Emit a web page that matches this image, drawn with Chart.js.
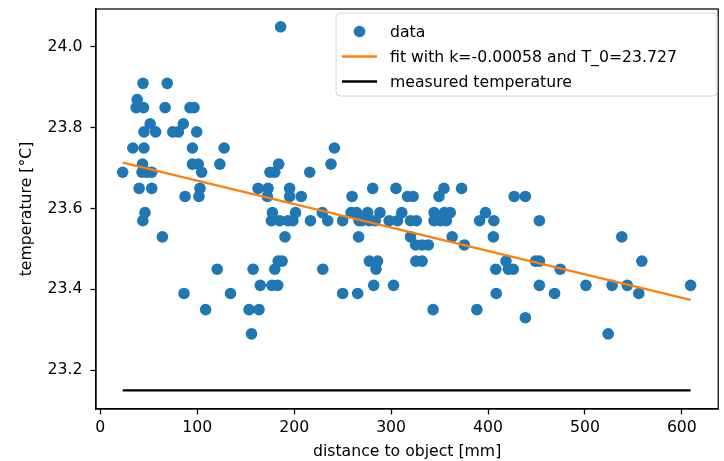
<!DOCTYPE html>
<html>
<head>
<meta charset="utf-8">
<script src="https://cdn.jsdelivr.net/npm/chart.js@4.4.1/dist/chart.umd.min.js"></script>
<style>
  html, body { margin: 0; padding: 0; background: #fff; }
  #wrap { width: 724px; height: 461px; }
</style>
</head>
<body>
<div id="wrap"><canvas id="chart" width="724" height="461"></canvas></div>
<script>
// measured points: distance [mm] / temperature [°C]
const distance = [
  23, 33.5, 37, 38, 40, 43, 43.5, 43.8, 44, 44.5, 45, 45, 46, 48, 51.4, 53, 53, 57, 64, 66.8,
  69, 74.7, 80.5, 85.6, 86.3, 87.4, 92.5, 95, 95, 96.6, 99.4, 101, 101.7, 102.8, 104.5, 108.6, 120.6, 123.3, 127.7, 134.3,
  153.4, 156, 157.6, 162.7, 163.7, 165, 172.3, 173, 175, 176.5, 177, 177.5, 180, 180, 183, 183.5, 184, 185, 186, 187.5,
  190.5, 193.5, 195.3, 195.3, 198.6, 201.4, 207.3, 216, 216.8, 229, 229.5, 234.6, 238, 241.5, 250, 250, 258.7, 259.7, 264.4, 265.5,
  266.5, 267, 270, 275.8, 277.5, 277.5, 281, 282, 283.6, 284.4, 286, 288.5, 298, 302.5, 305, 306.6, 311, 317, 320, 320,
  322.7, 325.3, 325.5, 326, 332, 332, 338.4, 343.3, 344.3, 344.3, 349.4, 351, 354.5, 355, 357, 361, 363, 372.7, 375.5, 388.5,
  391.3, 397.4, 406, 405.5, 408, 408.5, 418.5, 421, 426, 427, 438.5, 438.5, 449, 453, 453, 453, 468.7, 474.5, 501, 524,
  528, 538, 543.7, 555.6, 558.7, 609
];
const temperature = [
  23.69, 23.75, 23.85, 23.87, 23.65, 23.69, 23.71, 23.57, 23.91, 23.85, 23.79, 23.75, 23.59, 23.69, 23.81, 23.69, 23.65, 23.79, 23.53, 23.85,
  23.91, 23.79, 23.79, 23.81, 23.39, 23.63, 23.85, 23.75, 23.71, 23.85, 23.79, 23.71, 23.63, 23.65, 23.69, 23.35, 23.45, 23.71, 23.75, 23.39,
  23.35, 23.29, 23.45, 23.65, 23.35, 23.41, 23.63, 23.65, 23.69, 23.57, 23.41, 23.59, 23.45, 23.69, 23.41, 23.47, 23.71, 23.57, 24.05, 23.47,
  23.53, 23.57, 23.65, 23.63, 23.57, 23.59, 23.63, 23.69, 23.57, 23.59, 23.45, 23.57, 23.71, 23.75, 23.57, 23.39, 23.59, 23.63, 23.59, 23.39,
  23.53, 23.57, 23.57, 23.59, 23.57, 23.47, 23.65, 23.41, 23.57, 23.45, 23.47, 23.59, 23.57, 23.41, 23.65, 23.57, 23.59, 23.63, 23.57, 23.53,
  23.63, 23.51, 23.47, 23.57, 23.51, 23.47, 23.51, 23.35, 23.59, 23.57, 23.63, 23.57, 23.65, 23.59, 23.57, 23.59, 23.53, 23.65, 23.51, 23.35,
  23.57, 23.59, 23.57, 23.53, 23.45, 23.39, 23.47, 23.45, 23.45, 23.63, 23.63, 23.33, 23.47, 23.47, 23.57, 23.41, 23.39, 23.45, 23.41, 23.29,
  23.41, 23.53, 23.41, 23.39, 23.47, 23.41
];

// fit line end points and the measured reference temperature
const fitX = [23, 609];
const fitY = [23.714, 23.374];
const refX = [23, 609];
const refY = [23.15, 23.15];

const xTicks = [0, 100, 200, 300, 400, 500, 600];
const yTicks = [23.2, 23.4, 23.6, 23.8, 24.0];

const FONT = "'DejaVu Sans', sans-serif";
const FS = 15.7;

function toPts(xs, ys) {
  return xs.map((x, i) => ({ x: x, y: ys[i] }));
}

// cadre noir autour de la zone du graphique + legende façon matplotlib
const framePlugin = {
  id: 'frame',
  afterDraw(chart) {
    const { ctx, chartArea: a } = chart;
    ctx.save();
    ctx.strokeStyle = '#000';
    ctx.lineWidth = 1.25;
    ctx.strokeRect(a.left, a.top, a.right - a.left, a.bottom - a.top);

    // legende
    const bx = 336, by = 13, bw = 381, bh = 83, r = 4;
    ctx.beginPath();
    ctx.moveTo(bx + r, by);
    ctx.arcTo(bx + bw, by, bx + bw, by + bh, r);
    ctx.arcTo(bx + bw, by + bh, bx, by + bh, r);
    ctx.arcTo(bx, by + bh, bx, by, r);
    ctx.arcTo(bx, by, bx + bw, by, r);
    ctx.closePath();
    ctx.fillStyle = 'rgba(255,255,255,0.8)';
    ctx.fill();
    ctx.strokeStyle = '#d6d6d6';
    ctx.lineWidth = 1;
    ctx.stroke();

    const ds = chart.data.datasets;
    const rows = [31.5, 56.5, 81.5];
    ctx.font = FS + 'px ' + FONT;
    ctx.textBaseline = 'middle';
    ctx.textAlign = 'left';
    ds.forEach((d, i) => {
      const y = rows[i];
      if (d.showLine === false) {
        ctx.beginPath();
        ctx.arc(359.5, y, 5.8, 0, Math.PI * 2);
        ctx.fillStyle = d.backgroundColor;
        ctx.fill();
      } else {
        ctx.beginPath();
        ctx.moveTo(342, y);
        ctx.lineTo(377, y);
        ctx.strokeStyle = d.borderColor;
        ctx.lineWidth = 2.35;
        ctx.stroke();
      }
      ctx.fillStyle = '#000';
      ctx.fillText(d.label, 390, y + 1);
    });
    ctx.restore();
  }
};

const ctx = document.getElementById('chart').getContext('2d');
new Chart(ctx, {
  type: 'scatter',
  data: {
    datasets: [
      {
        label: 'data',
        data: toPts(distance, temperature),
        showLine: false,
        pointRadius: 5.8,
        pointHoverRadius: 5.8,
        pointBorderWidth: 0,
        backgroundColor: '#1f77b4',
        borderColor: '#1f77b4',
        order: 3
      },
      {
        label: 'fit with k=-0.00058 and T_0=23.727',
        data: toPts(fitX, fitY),
        showLine: true,
        pointRadius: 0,
        borderColor: '#ff7f0e',
        backgroundColor: '#ff7f0e',
        borderWidth: 2.35,
        order: 2
      },
      {
        label: 'measured temperature',
        data: toPts(refX, refY),
        showLine: true,
        pointRadius: 0,
        borderColor: '#000000',
        backgroundColor: '#000000',
        borderWidth: 2.35,
        order: 1
      }
    ]
  },
  options: {
    responsive: false,
    animation: false,
    layout: { padding: { left: 0, right: 4, top: 9, bottom: 0 } },
    plugins: {
      legend: { display: false },
      tooltip: { enabled: false }
    },
    scales: {
      x: {
        type: 'linear',
        min: -4.5,
        max: 637.5,
        afterBuildTicks: (s) => { s.ticks = xTicks.map(v => ({ value: v })); },
        afterFit: (s) => { s.height = 52; s.paddingLeft = 0; s.paddingRight = 0; },
        grid: { display: true, drawOnChartArea: false, drawTicks: true, tickLength: 5.5, tickWidth: 1.25, tickColor: '#000' },
        border: { display: true, color: '#000', width: 1.25 },
        ticks: { color: '#000', padding: 4, maxRotation: 0, font: { family: FONT, size: FS }, callback: v => String(v) },
        title: { display: true, text: 'distance to object [mm]', color: '#000', font: { family: FONT, size: FS }, padding: { bottom: 0 } }
      },
      y: {
        type: 'linear',
        min: 23.104,
        max: 24.094,
        afterBuildTicks: (s) => { s.ticks = yTicks.map(v => ({ value: v })); },
        afterFit: (s) => { s.width = 96; s.paddingTop = 0; s.paddingBottom = 0; },
        grid: { display: true, drawOnChartArea: false, drawTicks: true, tickLength: 5.5, tickWidth: 1.25, tickColor: '#000' },
        border: { display: true, color: '#000', width: 1.25 },
        ticks: { color: '#000', padding: 8, font: { family: FONT, size: FS }, callback: v => v.toFixed(1) },
        title: { display: true, text: 'temperature [°C]', color: '#000', font: { family: FONT, size: FS }, padding: { top: 18 } }
      }
    }
  },
  plugins: [framePlugin]
});
</script>
</body>
</html>
